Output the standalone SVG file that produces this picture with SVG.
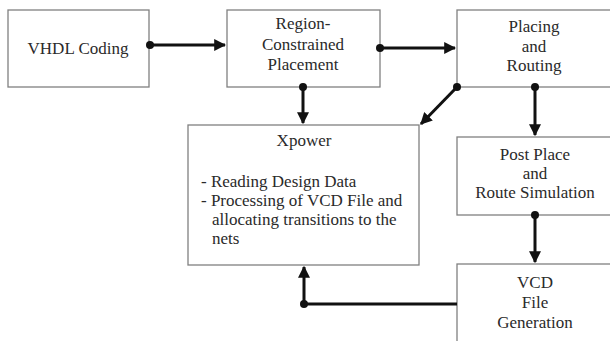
<svg xmlns="http://www.w3.org/2000/svg" width="610" height="341" viewBox="0 0 610 341">
<style>
.box{fill:#fff;stroke:#808080;stroke-width:1.3}
text{font-family:'Liberation Serif',Tinos,'DejaVu Serif',serif;font-size:17px;fill:#2a2a2a}
.c{text-anchor:middle}
.ln{stroke:#111;stroke-width:3;fill:none}
.dot{fill:#111}
</style>
<defs>
<marker id="ah" viewBox="0 0 10 10" refX="9" refY="5" markerWidth="4" markerHeight="4" orient="auto" markerUnits="strokeWidth">
<path d="M0,0 L10,5 L0,10 z" fill="#111"/>
</marker>
</defs>
<rect width="610" height="341" fill="#fff"/>
<g id="vhdl">
<rect class="box" x="8" y="10" width="141" height="77"/>
<text class="c" x="78" y="54" font-family="Liberation Serif, serif">VHDL Coding</text>
</g>
<g id="region">
<rect class="box" x="227" y="10" width="153" height="77"/>
<text class="c" x="303" y="29">Region-</text>
<text class="c" x="303" y="50">Constrained</text>
<text class="c" x="303" y="70">Placement</text>
</g>
<g id="placing">
<rect class="box" x="457" y="10" width="160" height="77"/>
<text class="c" x="534" y="32">Placing</text>
<text class="c" x="534" y="52">and</text>
<text class="c" x="534" y="71">Routing</text>
</g>
<g id="xpower">
<rect class="box" x="188" y="125" width="231" height="140"/>
<text class="c" x="304" y="146">Xpower</text>
<text x="201" y="187">- Reading Design Data</text>
<text x="201" y="206">- Processing of VCD File and</text>
<text x="212" y="225">allocating transitions to the</text>
<text x="212" y="244">nets</text>
</g>
<g id="postplace">
<rect class="box" x="457" y="137" width="160" height="78"/>
<text class="c" x="535" y="160">Post Place</text>
<text class="c" x="535" y="179">and</text>
<text class="c" x="535" y="198">Route Simulation</text>
</g>
<g id="vcd">
<rect class="box" x="457" y="264" width="160" height="90"/>
<text class="c" x="535" y="288">VCD</text>
<text class="c" x="535" y="308">File</text>
<text class="c" x="535" y="328">Generation</text>
</g>
<g id="connectors">
<line class="ln" x1="150" y1="45" x2="225" y2="45" marker-end="url(#ah)"/>
<circle class="dot" cx="150" cy="45" r="4"/>
<line class="ln" x1="380" y1="48" x2="455" y2="48" marker-end="url(#ah)"/>
<circle class="dot" cx="380" cy="48" r="4"/>
<line class="ln" x1="303" y1="87" x2="303" y2="123" marker-end="url(#ah)"/>
<circle class="dot" cx="303" cy="87" r="4"/>
<line class="ln" x1="457" y1="87" x2="421" y2="124" marker-end="url(#ah)"/>
<circle class="dot" cx="457" cy="87" r="4"/>
<line class="ln" x1="535" y1="87" x2="535" y2="135" marker-end="url(#ah)"/>
<circle class="dot" cx="535" cy="87" r="4"/>
<line class="ln" x1="535" y1="215" x2="535" y2="262" marker-end="url(#ah)"/>
<circle class="dot" cx="535" cy="215" r="4"/>
<polyline class="ln" points="457,304 304,304 304,267" marker-end="url(#ah)"/>
<circle class="dot" cx="304" cy="304" r="4"/>
</g>
</svg>
